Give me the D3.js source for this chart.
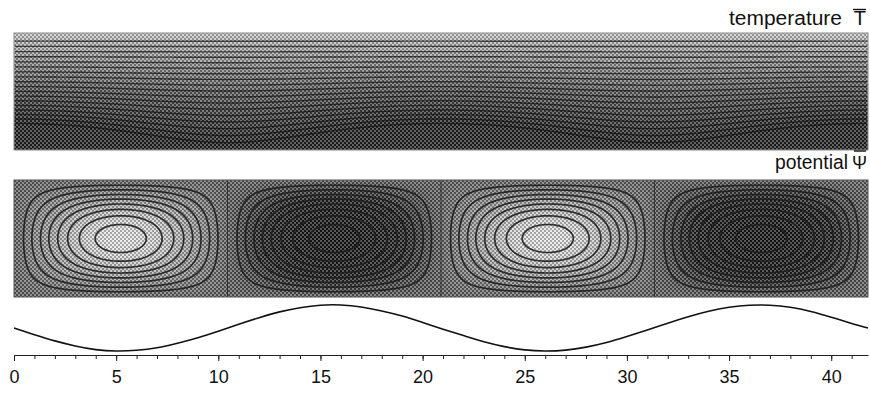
<!DOCTYPE html>
<html>
<head>
<meta charset="utf-8">
<script src="https://cdn.jsdelivr.net/npm/d3@7"></script>
<style>
  body { margin: 0; background: #fff; }
  svg { display: block; font-family: "Liberation Sans", Arial, Helvetica, sans-serif; }
</style>
</head>
<body>
<svg id="chart" width="870" height="393"></svg>
<script>
  var xDomain = [0, 41.8];
  var xTicks = [0, 5, 10, 15, 20, 25, 30, 35, 40];
  var xMinorTicks = d3.range(0, 42, 1);

  // four convection cells, alternating sense of rotation
  var cellEdges = [0, 10.45, 20.9, 31.35, 41.8];
  var cellSigns = [1, -1, 1, -1];
  var psiLevels = [0.14, 0.26, 0.38, 0.49, 0.60, 0.71, 0.82, 0.93];

  // temperature contour levels (1 = top, 0 = bottom)
  var tempLevels = [0.93, 0.885, 0.84, 0.795, 0.75, 0.705, 0.66, 0.615, 0.57, 0.525,
                    0.48, 0.435, 0.39, 0.345, 0.30, 0.255, 0.21, 0.165];
  var tempWavePeriod = 20.9;
  var tempWaveAmp = 0.12;

  // bottom profile
  var waveX = [0, 1, 2, 3, 4, 5, 6, 7, 8, 9, 10, 11, 12, 13, 14, 15, 16, 17, 18, 19, 20,
               21, 22, 23, 24, 25, 26, 27, 28, 29, 30, 31, 32, 33, 34, 35, 36, 37, 38, 39, 40, 41, 41.8];
  var waveY = [0.00, -0.29, -0.56, -0.78, -0.94, -1.00, -0.97, -0.86, -0.66, -0.42, -0.14,
               0.16, 0.45, 0.70, 0.88, 0.99, 1.00, 0.91, 0.74, 0.52, 0.24,
               -0.05, -0.33, -0.60, -0.81, -0.95, -1.00, -0.96, -0.83, -0.63, -0.37,
               -0.09, 0.21, 0.49, 0.73, 0.90, 0.99, 0.99, 0.90, 0.72, 0.47, 0.20, 0.00];

  var svg = d3.select("#chart");
  var x = d3.scaleLinear().domain(xDomain).range([14, 868]);
  var topY = d3.scaleLinear().domain([0, 1]).range([33, 150]);
  var midY = d3.scaleLinear().domain([0, 1]).range([180, 297]);
  var waveScale = d3.scaleLinear().domain([-1, 1]).range([351, 305]);

  var nx = 427, ny = 59;
  var gx = d3.scaleLinear().domain([0, nx]).range(xDomain);
  var gz = d3.scaleLinear().domain([0, ny]).range([0, 1]);

  var defs = svg.append("defs");
  var pat = defs.append("pattern").attr("id", "dither")
    .attr("width", 4).attr("height", 4).attr("patternUnits", "userSpaceOnUse");
  [[0, 0, "#fff"], [2, 2, "#fff"], [2, 0, "#000"], [0, 2, "#000"]].forEach(function(c) {
    pat.append("rect").attr("x", c[0]).attr("y", c[1]).attr("width", 2).attr("height", 2)
      .attr("fill", c[2]).attr("opacity", 0.27);
  });

  function makeGrid(f) {
    var v = new Array(nx * ny);
    for (var j = 0; j < ny; j++) {
      for (var i = 0; i < nx; i++) {
        v[j * nx + i] = f(gx(i + 0.5), gz(j + 0.5));
      }
    }
    return v;
  }

  function tempAt(xv, z) {
    return 1 - z - tempWaveAmp * Math.pow(z, 2.5) * Math.cos(2 * Math.PI * xv / tempWavePeriod);
  }

  function psiAt(xv, z) {
    var c = Math.min(cellSigns.length - 1, Math.floor(xv / (cellEdges[1] - cellEdges[0])));
    var u = (xv - cellEdges[c]) / (cellEdges[c + 1] - cellEdges[c]);
    return cellSigns[c] * Math.sin(Math.PI * u) * Math.sin(Math.PI * z);
  }

  function projector(yScale) {
    return d3.geoPath(d3.geoTransform({
      point: function(a, b) { this.stream.point(x(gx(a)), yScale(gz(b))); }
    }));
  }

  function panel(id, yScale, values, fillLevels, color, lineSets, lineStyle) {
    var path = projector(yScale);
    var x0 = x.range()[0], x1 = x.range()[1], y0 = yScale.range()[0], y1 = yScale.range()[1];
    defs.append("clipPath").attr("id", id + "-clip").append("rect")
      .attr("x", x0 + 1).attr("y", y0 + 1).attr("width", x1 - x0 - 2).attr("height", y1 - y0 - 2);
    var g = svg.append("g");
    g.append("rect").attr("x", x0).attr("y", y0).attr("width", x1 - x0).attr("height", y1 - y0)
      .attr("fill", color(fillLevels[0]));
    var fills = d3.contours().size([nx, ny]).thresholds(fillLevels)(values);
    g.selectAll("path.band").data(fills).join("path").attr("class", "band")
      .attr("d", path).attr("fill", function(d) { return color(d.value); });
    g.append("rect").attr("x", x0).attr("y", y0).attr("width", x1 - x0).attr("height", y1 - y0)
      .attr("fill", "url(#dither)");
    var lg = g.append("g").attr("clip-path", "url(#" + id + "-clip)");
    lineSets.forEach(function(s) {
      var lines = d3.contours().size([nx, ny]).thresholds(s.levels)(s.values);
      lg.selectAll(null).data(lines).join("path")
        .attr("d", path).attr("fill", "none")
        .attr("stroke", lineStyle.color).attr("stroke-width", lineStyle.width)
        .attr("stroke-opacity", lineStyle.opacity);
    });
    return g;
  }

  // temperature
  var tVals = makeGrid(tempAt);
  var tColor = d3.scaleLinear().domain([0.14, 0.5, 1]).range(["#262626", "#626262", "#cfcfcf"]).clamp(true);
  var tFill = d3.range(-0.15, 1.0, 1 / 64);
  var tg = panel("temp", topY, tVals, tFill, tColor,
    [{ values: tVals, levels: tempLevels }],
    { color: "#111", width: 1.4, opacity: 0.72 });
  tg.append("rect").attr("x", 14).attr("y", 33).attr("width", 854).attr("height", 117)
    .attr("fill", "none").attr("stroke", "#8a8a8a").attr("stroke-width", 1);

  // potential
  var pVals = makeGrid(psiAt);
  var pNeg = pVals.map(function(v) { return -v; });
  var pColor = d3.scaleLinear().domain([-1, -0.5, 0, 0.6, 1])
    .range(["#181818", "#262626", "#666666", "#b4b4b4", "#e8e8e8"]);
  var pFill = d3.range(-1, 1, 1 / 40);
  var pg = panel("psi", midY, pVals, pFill, pColor,
    [{ values: pVals, levels: psiLevels }, { values: pNeg, levels: psiLevels }],
    { color: "#1e1e1e", width: 1.7, opacity: 0.9 });
  pg.selectAll("line.edge").data(cellEdges.slice(1, -1)).join("line").attr("class", "edge")
    .attr("x1", function(d) { return x(d); }).attr("x2", function(d) { return x(d); })
    .attr("y1", 180).attr("y2", 297).attr("stroke", "#333").attr("stroke-width", 1);
  pg.append("rect").attr("x", 14).attr("y", 180).attr("width", 854).attr("height", 117)
    .attr("fill", "none").attr("stroke", "#555").attr("stroke-width", 1);

  // bottom profile
  var line = d3.line()
    .x(function(d, i) { return x(waveX[i]); })
    .y(function(d) { return waveScale(d); })
    .curve(d3.curveNatural);
  svg.append("path").datum(waveY).attr("d", line)
    .attr("fill", "none").attr("stroke", "#111").attr("stroke-width", 1.6);

  // axis
  var axisY = 355;
  svg.append("g").attr("transform", "translate(0," + axisY + ")")
    .call(d3.axisBottom(x).tickValues(xMinorTicks).tickSize(4).tickSizeOuter(0).tickFormat(""))
    .call(function(g) { g.select(".domain").remove(); })
    .selectAll("line").attr("stroke", "#222");
  var ax = svg.append("g").attr("transform", "translate(0," + axisY + ")")
    .call(d3.axisBottom(x).tickValues(xTicks).tickSize(6).tickSizeOuter(0).tickPadding(9));
  ax.select(".domain").attr("stroke", "#222").attr("stroke-width", 1.2);
  ax.selectAll(".tick line").attr("stroke", "#222");
  ax.selectAll("text").attr("font-size", 18).attr("fill", "#111")
    .style("font-family", "'Liberation Sans', Arial, sans-serif");

  // titles
  svg.append("text").attr("x", 729).attr("y", 25)
    .attr("font-size", 20).attr("fill", "#111")
    .attr("textLength", 113).attr("lengthAdjust", "spacingAndGlyphs").text("temperature");
  svg.append("text").attr("x", 866).attr("y", 25).attr("text-anchor", "end")
    .attr("font-size", 20).attr("fill", "#111").text("T");
  svg.append("line").attr("x1", 853).attr("x2", 866).attr("y1", 9.5).attr("y2", 9.5)
    .attr("stroke", "#111").attr("stroke-width", 1.4);

  svg.append("text").attr("x", 775).attr("y", 169)
    .attr("font-size", 20).attr("fill", "#111")
    .attr("textLength", 73).attr("lengthAdjust", "spacingAndGlyphs").text("potential");
  svg.append("text").attr("x", 867).attr("y", 169).attr("text-anchor", "end")
    .attr("font-size", 18).attr("fill", "#111").text("Ψ");
  svg.append("line").attr("x1", 854).attr("x2", 866).attr("y1", 151).attr("y2", 151)
    .attr("stroke", "#111").attr("stroke-width", 1.4);
</script>
</body>
</html>
